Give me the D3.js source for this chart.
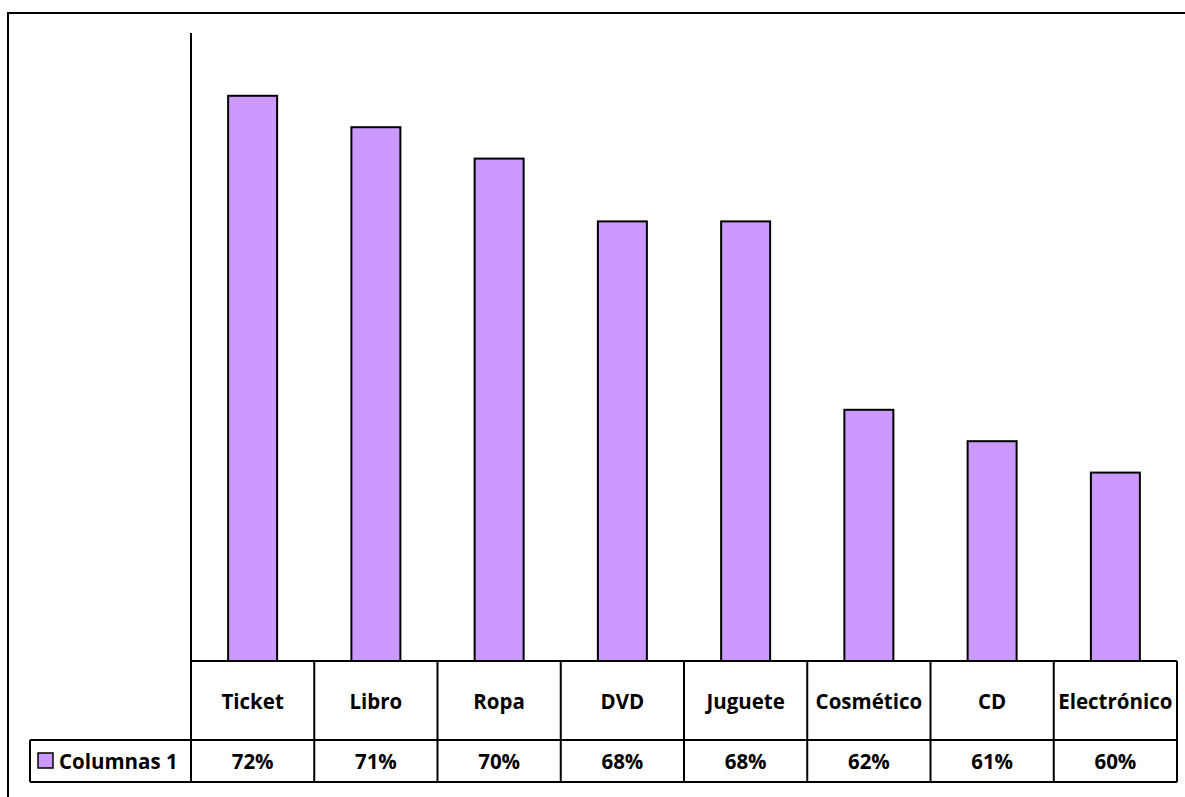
<!DOCTYPE html>
<html>
<head>
<meta charset="utf-8">
<script src="https://cdn.jsdelivr.net/npm/d3@7"></script>
<style>
  body { margin: 0; background: #fff; }
  svg { display: block; font-family: "Open Sans", "Noto Sans", sans-serif; }
</style>
</head>
<body>
<svg width="1185" height="797"></svg>
<script>
const categories = ["Ticket", "Libro", "Ropa", "DVD", "Juguete", "Cosmético", "CD", "Electrónico"];
const values = [72, 71, 70, 68, 68, 62, 61, 60];
const valueLabels = ["72%", "71%", "70%", "68%", "68%", "62%", "61%", "60%"];
const seriesName = "Columnas 1";

const svg = d3.select("svg");

const left = 191, right = 1177;
const plotTop = 33, plotBottom = 661;
const rowLine = 740, tableBottom = 782;
const legendLeft = 30;
const barColor = "#cc99ff";
const fontSize = 20.5;

/* outer frame, clipped on the right and bottom like the source */
svg.append("rect")
  .attr("x", 8).attr("y", 13)
  .attr("width", 1200).attr("height", 800)
  .attr("fill", "none").attr("stroke", "#000").attr("stroke-width", 2);

const xScale = d3.scaleBand().domain(categories).range([left, right]).paddingInner(0).paddingOuter(0);
const yScale = d3.scaleLinear().domain([54, 74]).range([plotBottom, plotTop]);
const barW = 49;

/* value axis line (no ticks) */
svg.append("line")
  .attr("x1", left).attr("x2", left)
  .attr("y1", yScale(74)).attr("y2", yScale(54))
  .attr("stroke", "#000").attr("stroke-width", 2);

/* bars */
svg.append("g").selectAll("rect")
  .data(values)
  .join("rect")
  .attr("x", (d, i) => xScale(categories[i]) + xScale.bandwidth() / 2 - barW / 2)
  .attr("y", d => yScale(d))
  .attr("width", barW)
  .attr("height", d => yScale(54) - yScale(d))
  .attr("fill", barColor)
  .attr("stroke", "#000")
  .attr("stroke-width", 2);

/* data table */
const table = svg.append("g");
const lineStyle = sel => sel.attr("stroke", "#000").attr("stroke-width", 2);

// horizontal lines
table.append("line").attr("x1", left).attr("x2", right).attr("y1", plotBottom).attr("y2", plotBottom).call(lineStyle);
table.append("line").attr("x1", legendLeft).attr("x2", right).attr("y1", rowLine).attr("y2", rowLine).call(lineStyle);
table.append("line").attr("x1", legendLeft).attr("x2", right).attr("y1", tableBottom).attr("y2", tableBottom).call(lineStyle);
table.append("line").attr("x1", legendLeft).attr("x2", legendLeft).attr("y1", rowLine).attr("y2", tableBottom).call(lineStyle);

// vertical separators
const edges = categories.map(c => xScale(c)).concat([right]);
table.selectAll("line.sep")
  .data(edges)
  .join("line")
  .attr("class", "sep")
  .attr("x1", d => d).attr("x2", d => d)
  .attr("y1", plotBottom).attr("y2", tableBottom)
  .call(lineStyle);

// category labels
table.selectAll("text.cat")
  .data(categories)
  .join("text")
  .attr("class", "cat")
  .attr("x", d => xScale(d) + xScale.bandwidth() / 2)
  .attr("y", (plotBottom + rowLine) / 2)
  .attr("text-anchor", "middle")
  .attr("dominant-baseline", "central")
  .attr("font-size", fontSize)
  .attr("font-weight", "bold")
  .text(d => d);

// value labels
table.selectAll("text.val")
  .data(valueLabels)
  .join("text")
  .attr("class", "val")
  .attr("x", (d, i) => xScale(categories[i]) + xScale.bandwidth() / 2)
  .attr("y", (rowLine + tableBottom) / 2)
  .attr("text-anchor", "middle")
  .attr("dominant-baseline", "central")
  .attr("font-size", fontSize)
  .attr("font-weight", "bold")
  .text(d => d);

// legend key
table.append("rect")
  .attr("x", 38).attr("y", 753)
  .attr("width", 15).attr("height", 15)
  .attr("fill", barColor).attr("stroke", "#000").attr("stroke-width", 1.5);
table.append("text")
  .attr("x", 59)
  .attr("y", (rowLine + tableBottom) / 2)
  .attr("dominant-baseline", "central")
  .attr("font-size", fontSize)
  .attr("font-weight", "bold")
  .text(seriesName);
</script>
</body>
</html>
